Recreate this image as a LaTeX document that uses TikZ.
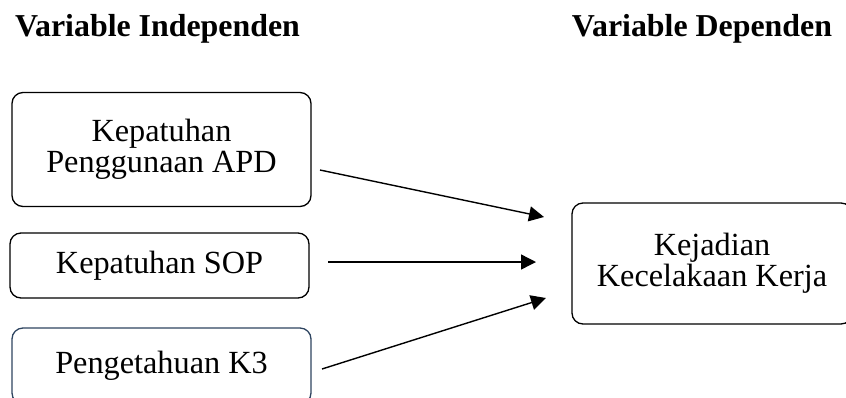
\documentclass[tikz,border=0pt]{standalone}
\usepackage{fontspec}
\setmainfont{Liberation Serif}
\usetikzlibrary{arrows.meta}
\definecolor{boxthree}{HTML}{2E4460}
\begin{document}
\begin{tikzpicture}[x=1bp,y=-1bp,
  vbox/.style={draw=black, line width=1.3bp, rounded corners=11bp, inner sep=0pt, align=center,
    font=\fontsize{32.4}{31.5}\selectfont},
  title/.style={font=\fontsize{32}{31}\selectfont\bfseries, inner sep=0pt, anchor=base},
  arr/.style={line width=1.4bp, -{Triangle[length=15bp,width=15bp]}}]
\useasboundingbox (0,0) rectangle (846,397);
\node[title] (t1) at (157.5,36) {Variable Independen};
\node[title] (t2) at (702,36) {Variable Dependen};
\node[vbox, minimum width=299bp, minimum height=114bp] (b1) at (161.5,149.5) {Kepatuhan\\Penggunaan APD};
\node[vbox, minimum width=299bp, minimum height=65bp] (b2) at (159.5,265.5) {Kepatuhan SOP};
\node[vbox, draw=boxthree, minimum width=299bp, minimum height=76bp] (b3) at (161.5,366) {Pengetahuan K3};
\node[vbox, minimum width=280bp, minimum height=121bp] (d) at (712,263.5) {Kejadian\\Kecelakaan Kerja};
\coordinate (s1) at (320,170);
\coordinate (e1) at (544,217);
\coordinate (s2) at (328,262);
\coordinate (e2) at (536,262);
\coordinate (s3) at (322,369);
\coordinate (e3) at (546,298);
\draw[arr] (s1) -- (e1);
\draw[arr] (s2) -- (e2);
\draw[arr] (s3) -- (e3);
\end{tikzpicture}
\end{document}
